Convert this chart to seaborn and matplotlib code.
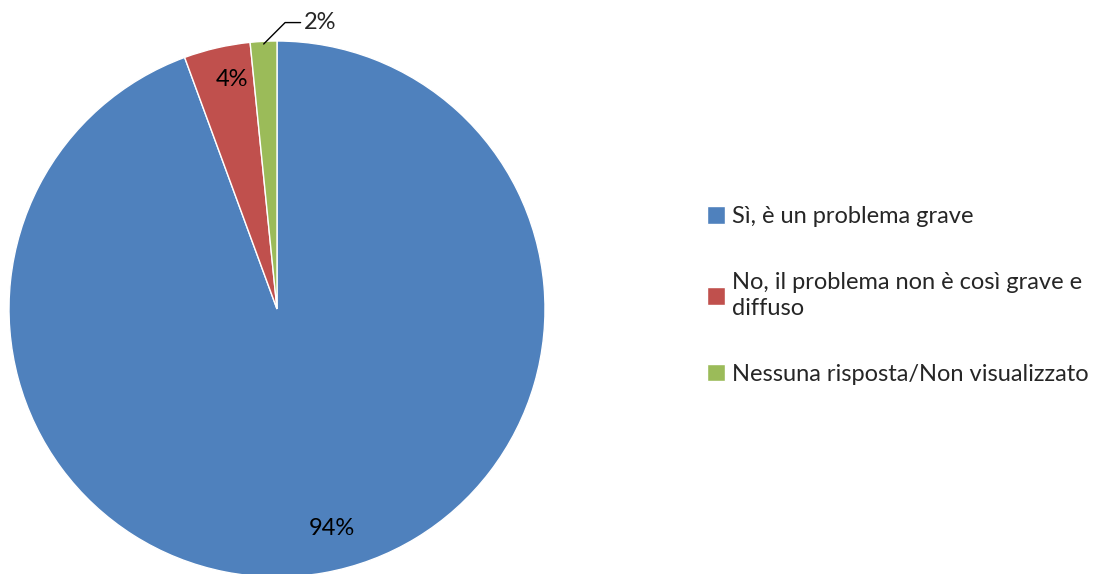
import numpy as np
import seaborn as sns
import matplotlib.pyplot as plt

categories = ['Sì, è un problema grave',
              'No, il problema non è così grave e\ndiffuso',
              'Nessuna risposta/Non visualizzato']
shares = [94.4, 4.0, 1.6]
colors = ['#4F81BD', '#C0504D', '#9BBB59']

sns.set_theme(style='white')
plt.rcParams['font.family'] = ['Lato', 'DejaVu Sans']

fig = plt.figure(figsize=(10.99, 5.74), dpi=100)
# pie axes: square, centred around pixel (277, 309), radius ~268
ax = fig.add_axes([9 / 1099, -3 / 574, 536 / 1099, 536 / 574])

wedges, _ = ax.pie(shares, colors=colors, startangle=90, counterclock=False,
                   radius=1.0, wedgeprops=dict(edgecolor='white', linewidth=1))
ax.set_xlim(-1, 1)
ax.set_ylim(-1, 1)
ax.set_aspect('equal')
ax.axis('off')

# percentage labels
for i, w in enumerate(wedges):
    mid = np.deg2rad((w.theta1 + w.theta2) / 2)
    txt = f'{shares[i]:.0f}%'
    if i == 2:
        # small slice: label outside with a leader line
        x0, y0 = 0.99 * np.cos(mid), 0.99 * np.sin(mid)
        ax.annotate(txt, xy=(x0, y0), xytext=(x0 + 0.15, y0 + 0.08),
                    fontsize=17, ha='left', va='center', annotation_clip=False,
                    arrowprops=dict(arrowstyle='-', color='black', lw=1,
                                    connectionstyle='angle,angleA=0,angleB=45,rad=0',
                                    shrinkA=0, shrinkB=0))
    elif i == 0:
        ax.text(0.83 * np.cos(mid) + 0.06, 0.83 * np.sin(mid), txt, fontsize=17,
                ha='center', va='center', color='black')
    else:
        ax.text(0.88 * np.cos(mid) + 0.03, 0.88 * np.sin(mid), txt, fontsize=17,
                ha='center', va='center', color='black')

leg = fig.legend(wedges, categories, loc='center left',
                 bbox_to_anchor=(0.624, 0.485), frameon=False, fontsize=17,
                 handlelength=0.75, handleheight=0.75, handletextpad=0.3,
                 labelspacing=1.9)
for t in leg.get_texts():
    t.set_linespacing(1.3)

fig.savefig('out.png', dpi=100)
